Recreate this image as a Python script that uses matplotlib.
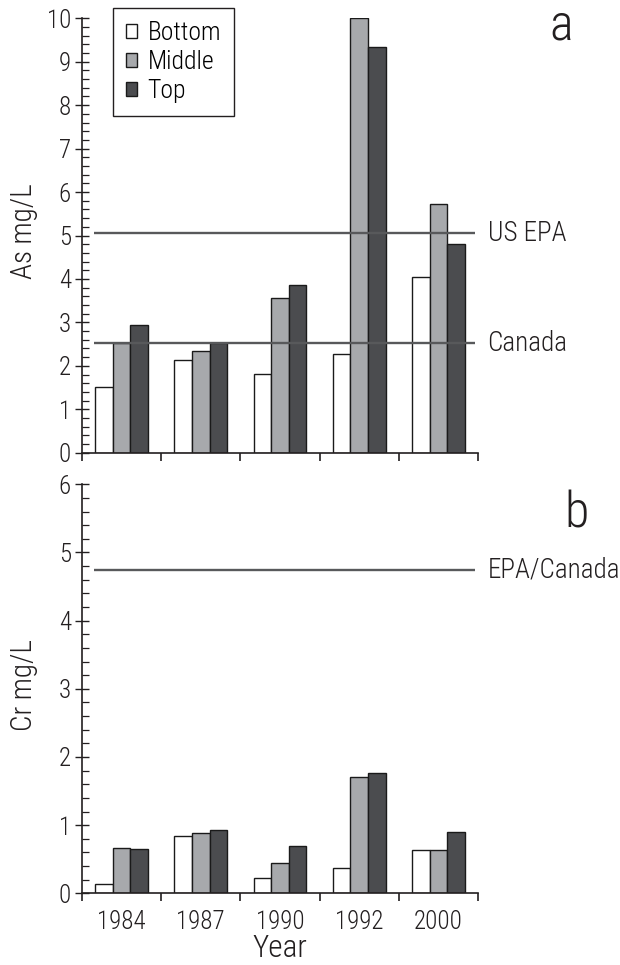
import matplotlib
matplotlib.use("Agg")
import matplotlib.pyplot as plt
from matplotlib.ticker import MultipleLocator
from matplotlib.patches import Patch
import numpy as np

plt.rcParams['font.family'] = ['Roboto Condensed', 'DejaVu Sans']
plt.rcParams['font.weight'] = 300
plt.rcParams['axes.labelweight'] = 300

years = ["1984", "1987", "1990", "1992", "2000"]
layers = ["Bottom", "Middle", "Top"]
layer_colors = ["#ffffff", "#a7a9ac", "#4b4c4f"]

as_bottom = [1.51, 2.14, 1.81, 2.28, 4.04]
as_middle = [2.53, 2.33, 3.55, 10.0, 5.73]
as_top = [2.93, 2.52, 3.87, 9.33, 4.80]

cr_bottom = [0.14, 0.84, 0.23, 0.37, 0.63]
cr_middle = [0.66, 0.88, 0.44, 1.70, 0.63]
cr_top = [0.65, 0.93, 0.70, 1.76, 0.90]

as_limits = {"US EPA": 5.05, "Canada": 2.52}
cr_limits = {"EPA/Canada": 4.74}

ink = "#231f20"
line_color = "#58595b"
fig = plt.figure(figsize=(6.2, 9.65), dpi=100)

ax1 = fig.add_axes([82 / 620, 1 - 452.7 / 965, 396 / 620, 434.4 / 965])
ax2 = fig.add_axes([82 / 620, 1 - 893.3 / 965, 396 / 620, 409.0 / 965])

bw = 0.222
x = np.arange(len(years)) + 0.5


def draw_panel(ax, series, limits, ymax):
    for k, (vals, col) in enumerate(zip(series, layer_colors)):
        ax.bar(x + (k - 1) * bw, vals, width=bw, color=col,
               edgecolor="#1a1a1a", linewidth=1.0, zorder=2)
    for name, val in limits.items():
        ax.hlines(val, 0.15, 4.96, color=line_color, linewidth=1.7, zorder=3)
        ax.text(5.12, val, name, ha="left", va="center", fontsize=19.5,
                color=ink, clip_on=False)
    ax.set_xlim(0, 5)
    ax.set_ylim(0, ymax)
    for s in ("top", "right"):
        ax.spines[s].set_visible(False)
    for s in ("left", "bottom"):
        ax.spines[s].set_linewidth(1.2)
        ax.spines[s].set_color(ink)
    ax.yaxis.set_major_locator(MultipleLocator(1))
    ax.yaxis.set_minor_locator(MultipleLocator(0.2))
    ax.set_xticks(np.arange(0, 6))
    ax.tick_params(axis="y", which="major", direction="inout", length=10,
                   width=1.0, labelsize=18, pad=3, colors=ink)
    ax.tick_params(axis="y", which="minor", direction="in", length=5,
                   width=0.9, colors=ink)
    ax.tick_params(axis="x", which="major", direction="out", length=6,
                   width=1.2, colors=ink)
    ax.set_xticklabels([])


draw_panel(ax1, [as_bottom, as_middle, as_top], as_limits, 10)
draw_panel(ax2, [cr_bottom, cr_middle, cr_top], cr_limits, 6)

# year labels centred under each group
ax2.set_xticks(x, minor=True)
ax2.set_xticklabels(years, minor=True)
ax2.tick_params(axis="x", which="minor", length=0, labelsize=18, pad=12,
                colors=ink)

ax1.set_ylabel("As mg/L", fontsize=21, color=ink, fontweight=300)
ax2.set_ylabel("Cr mg/L", fontsize=21, color=ink, fontweight=300)
ax1.yaxis.set_label_coords(-0.111, 0.51)
ax2.yaxis.set_label_coords(-0.111, 0.51)
ax2.set_xlabel("Year", fontsize=22.5, color=ink, fontweight=300)
ax2.xaxis.set_label_coords(0.5, -0.1)

handles = [Patch(facecolor=c, edgecolor="#1a1a1a", linewidth=1.0) for c in layer_colors]
leg = fig.legend(handles, layers, loc="upper left",
                 bbox_to_anchor=(113 / 620, 1 - 8 / 965),
                 bbox_transform=fig.transFigure, borderaxespad=0,
                 fontsize=18.5, handlelength=0.45, handleheight=0.45,
                 handletextpad=0.4, labelspacing=0.2, borderpad=0.5,
                 fancybox=False, framealpha=1, edgecolor=ink)
leg.get_frame().set_linewidth(1.0)

fig.text(561 / 620, 1 - 40 / 965, "a", fontsize=36, ha="center",
         va="baseline", color=ink)
fig.text(576 / 620, 1 - 527 / 965, "b", fontsize=36, ha="center",
         va="baseline", color=ink)

fig.savefig("out.png", dpi=100)
